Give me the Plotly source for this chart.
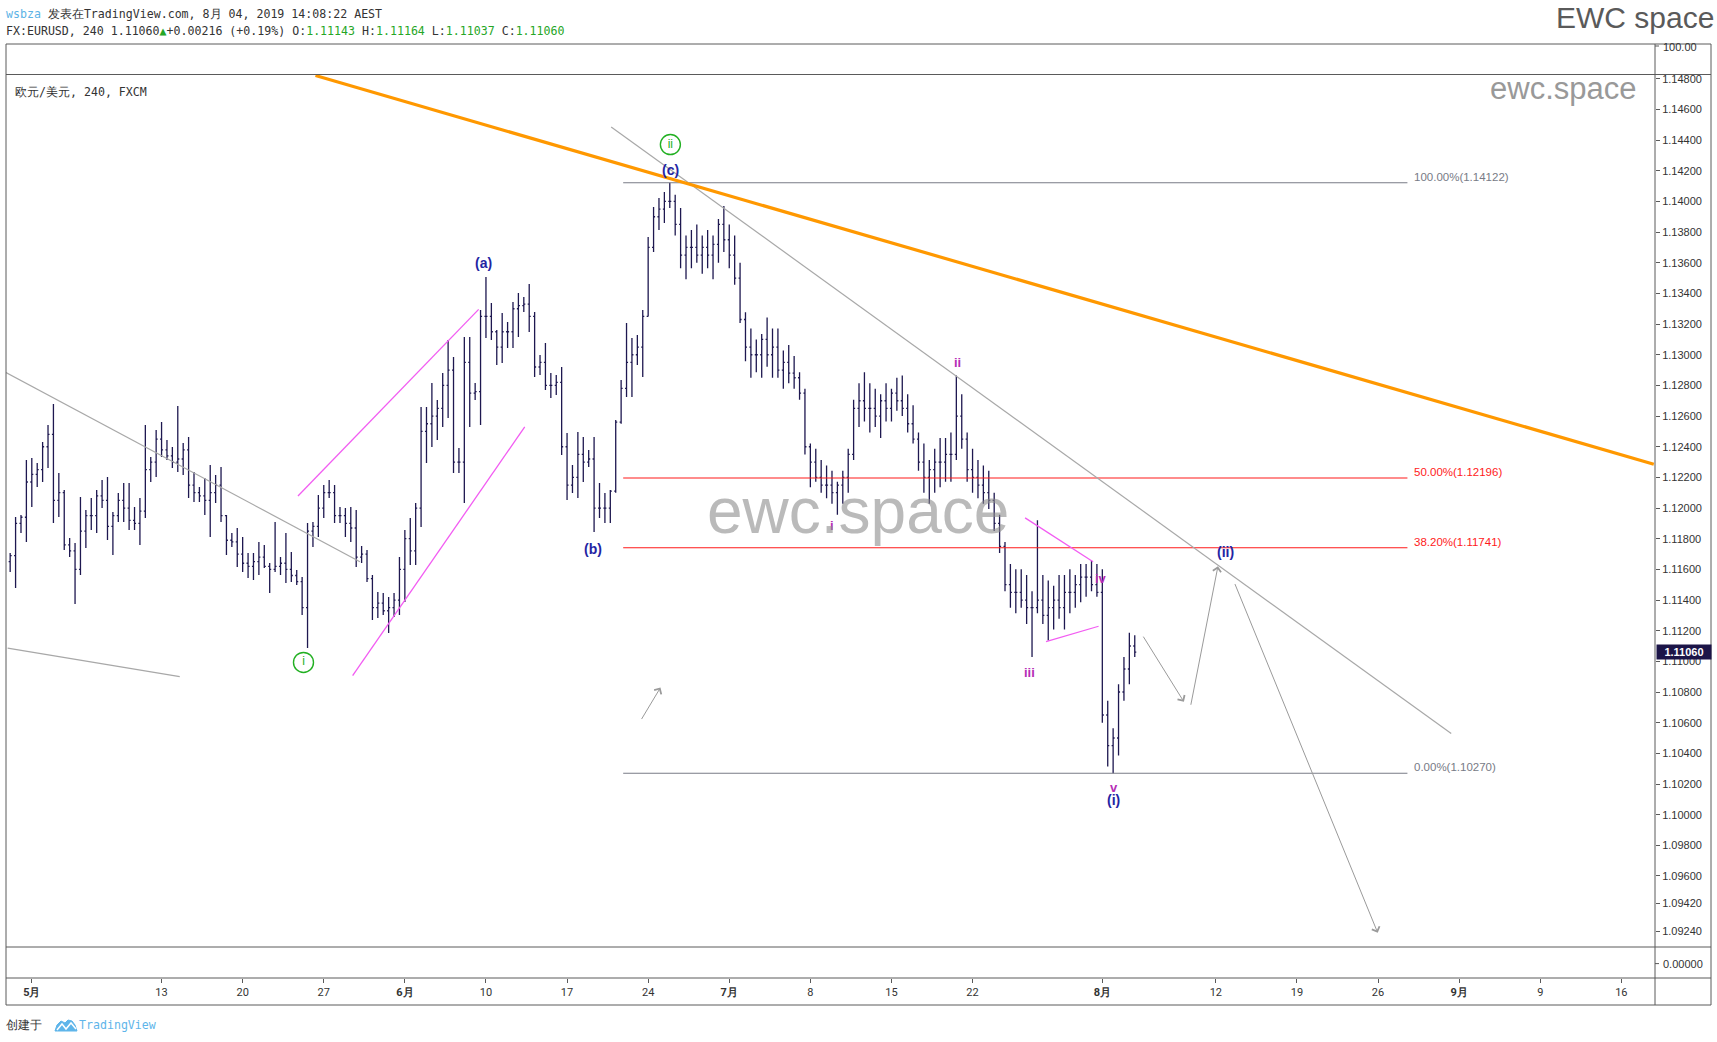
import plotly.graph_objects as go

# ---------------- data (EURUSD, 8h bars) ----------------
bar_open = [
 1.11650,1.11690,1.11900,1.11940,1.12170,1.12220,1.12250,1.12400,1.12480,1.12050,
 1.12100,1.11760,1.11720,1.11600,1.11850,1.11950,1.11950,1.12080,1.12050,1.11880,
 1.11950,1.12050,1.12000,1.11920,1.11900,1.11980,1.12250,1.12300,1.12450,1.12380,
 1.12340,1.12300,1.12320,1.12380,1.12150,1.12100,1.12080,1.12050,1.12100,1.12150,
 1.11950,1.11790,1.11780,1.11700,1.11640,1.11620,1.11650,1.11680,1.11620,1.11600,
 1.11620,1.11640,1.11600,1.11560,1.11520,1.11350,1.11850,1.11880,1.12000,1.12100,
 1.12100,1.11950,1.11950,1.11900,1.11870,1.11680,1.11700,1.11540,1.11350,1.11380,
 1.11330,1.11350,1.11400,1.11600,1.11800,1.11720,1.12000,1.12500,1.12550,1.12600,
 1.12650,1.12800,1.12900,1.12300,1.12300,1.12950,1.12750,1.12760,1.13250,1.13250,
 1.13150,1.13050,1.13150,1.13150,1.13300,1.13320,1.13330,1.13250,1.12920,1.12950,
 1.12800,1.12800,1.12820,1.12400,1.12150,1.12200,1.12350,1.12300,1.12320,1.12000,
 1.12000,1.12000,1.12110,1.12560,1.12780,1.12950,1.13000,1.13050,1.13250,1.13700,
 1.13900,1.13950,1.14000,1.14000,1.13850,1.13650,1.13700,1.13700,1.13650,1.13700,
 1.13650,1.13720,1.13850,1.13750,1.13650,1.13500,1.13230,1.13050,1.13000,1.13000,
 1.13100,1.13000,1.13050,1.12900,1.12950,1.12880,1.12850,1.12750,1.12400,1.12300,
 1.12200,1.12150,1.12150,1.12100,1.12150,1.12200,1.12350,1.12650,1.12700,1.12650,
 1.12650,1.12600,1.12700,1.12650,1.12750,1.12700,1.12650,1.12550,1.12450,1.12300,
 1.12200,1.12250,1.12300,1.12300,1.12350,1.12350,1.12600,1.12450,1.12250,1.12200,
 1.12150,1.12100,1.12050,1.11900,1.11750,1.11500,1.11450,1.11450,1.11400,1.11350,
 1.11350,1.11400,1.11300,1.11350,1.11400,1.11350,1.11450,1.11450,1.11500,1.11550,
 1.11550,1.11500,1.11450,1.10650,1.10450,1.10500,1.10800,1.10950,1.11100]
bar_high = [
 1.11707,1.11942,1.11955,1.12313,1.12326,1.12294,1.12431,1.12542,1.12679,1.12228,
 1.12118,1.11804,1.11772,1.12072,1.11987,1.12065,1.12118,1.12183,1.12203,1.11974,
 1.12098,1.12163,1.12163,1.12007,1.12065,1.12542,1.12333,1.12509,1.12561,1.12444,
 1.12398,1.12666,1.12424,1.12463,1.12235,1.12137,1.12196,1.12281,1.12215,1.12268,
 1.11955,1.11837,1.11870,1.11811,1.11707,1.11707,1.11778,1.11759,1.11642,1.11909,
 1.11681,1.11837,1.11713,1.11596,1.11550,1.11903,1.11909,1.12085,1.12150,1.12183,
 1.12150,1.12007,1.12000,1.12007,1.11987,1.11752,1.11726,1.11563,1.11452,1.11446,
 1.11420,1.11446,1.11681,1.11857,1.11935,1.12033,1.12659,1.12659,1.12816,1.12705,
 1.12881,1.13096,1.12985,1.12392,1.13116,1.13116,1.12816,1.13292,1.13507,1.13338,
 1.13161,1.13272,1.13214,1.13344,1.13403,1.13377,1.13462,1.13279,1.12998,1.13077,
 1.12881,1.12868,1.12920,1.12490,1.12281,1.12496,1.12463,1.12379,1.12463,1.12163,
 1.12098,1.12118,1.12574,1.12835,1.13207,1.13109,1.13129,1.13292,1.13768,1.13964,
 1.14022,1.14062,1.14122,1.14043,1.13957,1.13778,1.13814,1.13850,1.13778,1.13814,
 1.13778,1.13885,1.13971,1.13850,1.13778,1.13600,1.13278,1.13171,1.13100,1.13135,
 1.13243,1.13171,1.13171,1.13028,1.13064,1.12992,1.12885,1.12778,1.12421,1.12386,
 1.12314,1.12278,1.12243,1.12171,1.12243,1.12386,1.12707,1.12814,1.12885,1.12814,
 1.12778,1.12743,1.12814,1.12778,1.12850,1.12864,1.12743,1.12671,1.12493,1.12421,
 1.12314,1.12386,1.12457,1.12457,1.12493,1.12864,1.12743,1.12493,1.12386,1.12314,
 1.12278,1.12243,1.12100,1.11957,1.11778,1.11635,1.11600,1.11600,1.11564,1.11457,
 1.11921,1.11564,1.11528,1.11493,1.11564,1.11564,1.11600,1.11564,1.11635,1.11635,
 1.11657,1.11635,1.11600,1.10743,1.10564,1.10850,1.11028,1.11186,1.11171]
bar_low = [
 1.11583,1.11478,1.11837,1.11778,1.12007,1.12137,1.12170,1.12261,1.11903,1.11942,
 1.11726,1.11681,1.11374,1.11563,1.11739,1.11857,1.11837,1.12000,1.11791,1.11694,
 1.11909,1.11909,1.11857,1.11857,1.11759,1.11935,1.12170,1.12203,1.12333,1.12313,
 1.12261,1.12235,1.12215,1.12065,1.12039,1.12039,1.11955,1.11811,1.12033,1.11909,
 1.11694,1.11746,1.11616,1.11583,1.11544,1.11531,1.11563,1.11609,1.11446,1.11583,
 1.11563,1.11511,1.11518,1.11498,1.11302,1.11087,1.11746,1.11811,1.11935,1.12065,
 1.11903,1.11903,1.11811,1.11778,1.11616,1.11642,1.11518,1.11270,1.11283,1.11302,
 1.11185,1.11289,1.11302,1.11387,1.11629,1.11629,1.11876,1.12294,1.12398,1.12444,
 1.12529,1.12587,1.12228,1.12228,1.12033,1.12529,1.12705,1.12542,1.13109,1.13096,
 1.12933,1.12946,1.13044,1.13044,1.13116,1.13279,1.13148,1.12855,1.12868,1.12770,
 1.12718,1.12737,1.12346,1.12052,1.12098,1.12065,1.12170,1.12268,1.11844,1.11935,
 1.11903,1.11903,1.12100,1.12550,1.12724,1.12724,1.12933,1.12855,1.13250,1.13670,
 1.13814,1.13859,1.13957,1.13778,1.13564,1.13493,1.13564,1.13600,1.13529,1.13564,
 1.13493,1.13600,1.13671,1.13564,1.13457,1.13207,1.12957,1.12850,1.12885,1.12850,
 1.12921,1.12850,1.12850,1.12778,1.12814,1.12778,1.12707,1.12350,1.12136,1.12171,
 1.12100,1.12064,1.12028,1.11957,1.12028,1.12100,1.12314,1.12528,1.12564,1.12493,
 1.12528,1.12457,1.12564,1.12564,1.12635,1.12600,1.12493,1.12421,1.12243,1.12100,
 1.12028,1.12100,1.12136,1.12171,1.12171,1.12314,1.12386,1.12171,1.12100,1.12064,
 1.12028,1.11993,1.11850,1.11707,1.11457,1.11350,1.11314,1.11350,1.11243,1.11028,
 1.11314,1.11243,1.11136,1.11207,1.11278,1.11207,1.11314,1.11350,1.11386,1.11421,
 1.11457,1.11421,1.10600,1.10314,1.10270,1.10386,1.10743,1.10850,1.11028]
bar_close = [
 1.11690,1.11900,1.11940,1.12170,1.12220,1.12250,1.12400,1.12480,1.12050,1.12100,
 1.11760,1.11720,1.11600,1.11850,1.11950,1.11950,1.12080,1.12050,1.11880,1.11950,
 1.12050,1.12000,1.11920,1.11900,1.11980,1.12250,1.12300,1.12450,1.12380,1.12340,
 1.12300,1.12320,1.12380,1.12150,1.12100,1.12080,1.12050,1.12100,1.12150,1.11950,
 1.11790,1.11780,1.11700,1.11640,1.11620,1.11650,1.11680,1.11620,1.11600,1.11620,
 1.11640,1.11600,1.11560,1.11520,1.11350,1.11850,1.11880,1.12000,1.12100,1.12100,
 1.11950,1.11950,1.11900,1.11870,1.11680,1.11700,1.11540,1.11350,1.11380,1.11330,
 1.11350,1.11400,1.11600,1.11800,1.11720,1.12000,1.12500,1.12550,1.12600,1.12650,
 1.12800,1.12900,1.12300,1.12300,1.12950,1.12750,1.12760,1.13250,1.13250,1.13150,
 1.13050,1.13150,1.13150,1.13300,1.13320,1.13330,1.13250,1.12920,1.12950,1.12800,
 1.12800,1.12820,1.12400,1.12150,1.12200,1.12350,1.12300,1.12320,1.12000,1.12000,
 1.12000,1.12110,1.12560,1.12780,1.12950,1.13000,1.13050,1.13250,1.13700,1.13900,
 1.13950,1.14000,1.14000,1.13850,1.13650,1.13700,1.13700,1.13650,1.13700,1.13650,
 1.13720,1.13850,1.13750,1.13650,1.13500,1.13230,1.13050,1.13000,1.13000,1.13100,
 1.13000,1.13050,1.12900,1.12950,1.12880,1.12850,1.12750,1.12400,1.12300,1.12200,
 1.12150,1.12150,1.12100,1.12150,1.12200,1.12350,1.12650,1.12700,1.12650,1.12650,
 1.12600,1.12700,1.12650,1.12750,1.12700,1.12650,1.12550,1.12450,1.12300,1.12200,
 1.12250,1.12300,1.12300,1.12350,1.12350,1.12600,1.12450,1.12250,1.12200,1.12150,
 1.12100,1.12050,1.11900,1.11750,1.11500,1.11450,1.11450,1.11400,1.11350,1.11350,
 1.11400,1.11300,1.11350,1.11400,1.11350,1.11450,1.11450,1.11500,1.11550,1.11550,
 1.11500,1.11450,1.10650,1.10450,1.10500,1.10800,1.10950,1.11100,1.11060]

# trading-day index: 0 = 1 May 2019 (weekends removed), three 8h bars per day
tick_days = [0, 8, 13, 18, 23, 28, 33, 38, 43, 48, 53, 58, 66, 73, 78, 83, 88, 93, 98]
tick_labels = ["5月", "13", "20", "27", "6月", "10", "17", "24", "7月", "8", "15", "22",
               "8月", "12", "19", "26", "9月", "9", "16"]
price_ticks = [1.148, 1.146, 1.144, 1.142, 1.140, 1.138, 1.136, 1.134, 1.132, 1.130,
               1.128, 1.126, 1.124, 1.122, 1.120, 1.118, 1.116, 1.114, 1.112, 1.110,
               1.108, 1.106, 1.104, 1.102, 1.100, 1.098, 1.096, 1.0942, 1.0924]
price_tick_text = ["1.14800", "1.14600", "1.14400", "1.14200", "1.14000", "1.13800", "1.13600",
                   "1.13400", "1.13200", "1.13000", "1.12800", "1.12600", "1.12400", "1.12200",
                   "1.12000", "1.11800", "1.11600", "1.11400", "1.11200", "1.11000", "1.10800",
                   "1.10600", "1.10400", "1.10200", "1.10000", "1.09800", "1.09600", "1.09420",
                   "1.09240"]
last_price = 1.11060

fib_levels = [1.14122, 1.12196, 1.11741, 1.10270]
fib_names = ["100.00%", "50.00%", "38.20%", "0.00%"]
fib_colors = ["#787b86", "#ff1a1a", "#ff1a1a", "#787b86"]
fib_start, fib_end = 36.46, 84.81

# drawn lines: (x0, y0, x1, y1)
orange_trend = (17.49, 1.14821, 100.0, 1.12286)
grey_lines = [(-1.59, 1.12884, 20.23, 1.11650),
              (-1.49, 1.11086, 9.12, 1.10900),
              (35.72, 1.14486, 87.51, 1.10529)]
magenta_lines = [(16.41, 1.12079, 27.55, 1.13296),
                 (19.78, 1.10907, 30.39, 1.12529),
                 (61.24, 1.11936, 65.43, 1.11650),
                 (62.53, 1.11129, 65.77, 1.11229)]
# projection arrows: (tail x, tail y, head x, head y)
arrows = [(37.54, 1.10614, 38.76, 1.10829),
          (68.47, 1.11171, 71.03, 1.10736),
          (71.44, 1.10707, 73.13, 1.11621),
          (74.14, 1.11514, 82.98, 1.09229)]

BLUE = "#2424a3"
MAG = "#b62db6"
GREEN = "#22b022"
wave_labels = [("(a)", 27.82, 1.13600, BLUE), ("(b)", 34.57, 1.11736, BLUE),
               ("(c)", 39.37, 1.14207, BLUE), ("(i)", 66.71, 1.10093, BLUE),
               ("(ii)", 73.60, 1.11714, BLUE),
               ("i", 49.36, 1.11886, MAG), ("ii", 57.06, 1.12950, MAG),
               ("iii", 61.51, 1.10929, MAG), ("iv", 65.90, 1.11543, MAG),
               ("v", 66.71, 1.10179, MAG)]
circled_labels = [("i", 16.75, 1.10993), ("ii", 39.37, 1.14371)]

# ---------------- layout geometry (pixels) ----------------
W, H = 1717, 1042
ML, MR, MT, MB = 6, 62, 44, 37
PW, PH = W - ML - MR, H - MT - MB


def pxx(x):
    return (x - ML) / PW


def pyy(y):
    return (H - MB - y) / PH


bar_x = [-1.5 + (i + 0.5) / 3 for i in range(len(bar_close))]
o = bar_open
h = [max(a, b, c) for a, b, c in zip(bar_high, bar_open, bar_close)]
l = [min(a, b, c) for a, b, c in zip(bar_low, bar_open, bar_close)]

BAR = "#1e1850"
fig = go.Figure()
fig.add_trace(go.Ohlc(x=bar_x, open=o, high=h, low=l, close=bar_close,
                      increasing=dict(line=dict(color=BAR, width=1.3)),
                      decreasing=dict(line=dict(color=BAR, width=1.3)),
                      tickwidth=0.28, hoverinfo="skip", showlegend=False))

for t, x, y in circled_labels:
    fig.add_trace(go.Scatter(x=[x], y=[y], mode="markers+text", text=[t],
                             textposition="middle center",
                             textfont=dict(family="Liberation Sans, Arial", size=12, color=GREEN),
                             marker=dict(symbol="circle-open", size=20, color=GREEN,
                                         line=dict(width=1.4, color=GREEN)),
                             hoverinfo="skip", showlegend=False, cliponaxis=False))

shapes = []
# fib lines
for lv, col in zip(fib_levels, fib_colors):
    shapes.append(dict(type="line", xref="x", yref="y", x0=fib_start, x1=fib_end, y0=lv, y1=lv,
                       line=dict(color=col, width=1.2)))
for (x0, y0, x1, y1) in grey_lines:
    shapes.append(dict(type="line", xref="x", yref="y", x0=x0, y0=y0, x1=x1, y1=y1,
                       line=dict(color="#a8a8a8", width=1.2)))
for (x0, y0, x1, y1) in magenta_lines:
    shapes.append(dict(type="line", xref="x", yref="y", x0=x0, y0=y0, x1=x1, y1=y1,
                       line=dict(color="#f25cf2", width=1.3)))
x0, y0, x1, y1 = orange_trend
shapes.append(dict(type="line", xref="x", yref="y", x0=x0, y0=y0, x1=x1, y1=y1,
                   line=dict(color="#ff9800", width=3.2)))

FRAME = "#5a5a5a"
right_edge = pxx(1711)
# outer frame and pane separators
shapes.append(dict(type="rect", xref="paper", yref="paper", x0=pxx(6), x1=right_edge,
                   y0=pyy(1005), y1=pyy(44), line=dict(color=FRAME, width=1)))
for yy in (74.5, 947, 978):
    shapes.append(dict(type="line", xref="paper", yref="paper", x0=pxx(6), x1=right_edge,
                       y0=pyy(yy), y1=pyy(yy), line=dict(color=FRAME, width=1)))
shapes.append(dict(type="line", xref="paper", yref="paper", x0=pxx(1655), x1=pxx(1655),
                   y0=pyy(1005), y1=pyy(44), line=dict(color=FRAME, width=1)))
for yy in (46, 963.6):
    shapes.append(dict(type="line", xref="paper", yref="paper", x0=pxx(1655), x1=pxx(1659),
                       y0=pyy(yy), y1=pyy(yy), line=dict(color=FRAME, width=1)))


# TradingView logo (small cloud) in footer
def path(points):
    s = "M " + " L ".join(f"{pxx(a):.5f},{pyy(b):.5f}" for a, b in points) + " Z"
    return s


shapes.append(dict(type="path", xref="paper", yref="paper",
                   path=path([(55, 1031), (57, 1025), (61, 1021), (65, 1023), (68, 1020),
                              (72, 1021), (75, 1025), (77, 1031)]),
                   fillcolor="#5eb5ea", line=dict(color="#5eb5ea", width=1)))
shapes.append(dict(type="path", xref="paper", yref="paper",
                   path="M " + " L ".join(f"{pxx(a):.5f},{pyy(b):.5f}" for a, b in
                                          [(57, 1030), (62, 1024), (66, 1029), (71, 1023), (76, 1029)]),
                   line=dict(color="white", width=1.5)))

ann = []
FONT = "Liberation Sans, Arial, sans-serif"
MONO = "DejaVu Sans Mono, Liberation Mono, monospace"
for lv, name, col in zip(fib_levels, fib_names, fib_colors):
    ann.append(dict(x=fib_end + 0.3, y=lv, xref="x", yref="y", text=f"{name}({lv:.5f})",
                    showarrow=False, xanchor="left", yanchor="middle", yshift=6,
                    font=dict(family=FONT, size=11.5, color=col)))
for t, x, y, col in wave_labels:
    ann.append(dict(x=x, y=y, xref="x", yref="y", text=f"<b>{t}</b>", showarrow=False,
                    xanchor="center", yanchor="middle",
                    font=dict(family=FONT, size=14 if col == BLUE else 13, color=col)))
for (ax, ay, x, y) in arrows:
    ann.append(dict(x=x, y=y, ax=ax, ay=ay, xref="x", yref="y", axref="x", ayref="y",
                    text="", showarrow=True, arrowhead=4, arrowsize=1.6, arrowwidth=1,
                    arrowcolor="#9a9a9a", standoff=0, startstandoff=0))

# watermarks / header texts
ann.append(dict(x=pxx(858), y=pyy(511), xref="paper", yref="paper", text="ewc.space",
                showarrow=False, xanchor="center", yanchor="middle",
                font=dict(family=FONT, size=64, color="rgba(140,140,140,0.6)")))
ann.append(dict(x=pxx(1638), y=pyy(88), xref="paper", yref="paper", text="ewc.space",
                showarrow=False, xanchor="right", yanchor="middle",
                font=dict(family=FONT, size=31, color="#999999")))
ann.append(dict(x=pxx(1715), y=pyy(0), xref="paper", yref="paper", text="EWC space",
                showarrow=False, xanchor="right", yanchor="top", borderpad=0,
                font=dict(family=FONT, size=30, color="#5a5a5a")))
G = "#26a626"
ann.append(dict(x=pxx(4), y=pyy(14), xref="paper", yref="paper",
                text="<span style='color:#5cb3e6'>wsbza</span> 发表在TradingView.com, 8月 04, 2019 14:08:22 AEST",
                showarrow=False, xanchor="left", yanchor="middle",
                font=dict(family=MONO, size=11.6, color="#333333")))
ann.append(dict(x=pxx(4), y=pyy(31), xref="paper", yref="paper",
                text=(f"FX:EURUSD, 240 1.11060<span style='color:{G}'>▲</span>+0.00216 (+0.19%) "
                      f"O:<span style='color:{G}'>1.11143</span> H:<span style='color:{G}'>1.11164</span> "
                      f"L:<span style='color:{G}'>1.11037</span> C:<span style='color:{G}'>1.11060</span>"),
                showarrow=False, xanchor="left", yanchor="middle",
                font=dict(family=MONO, size=11.6, color="#333333")))
ann.append(dict(x=pxx(13), y=pyy(92), xref="paper", yref="paper", text="欧元/美元, 240, FXCM",
                showarrow=False, xanchor="left", yanchor="middle",
                font=dict(family=MONO, size=11.6, color="#333333")))
ann.append(dict(x=pxx(4), y=pyy(1025), xref="paper", yref="paper", text="创建于",
                showarrow=False, xanchor="left", yanchor="middle",
                font=dict(family=MONO, size=12, color="#333333")))
ann.append(dict(x=pxx(77), y=pyy(1025), xref="paper", yref="paper", text="TradingView",
                showarrow=False, xanchor="left", yanchor="middle",
                font=dict(family=MONO, size=11.6, color="#5eb5ea")))
ann.append(dict(x=pxx(1661), y=pyy(47), xref="paper", yref="paper", text="100.00",
                showarrow=False, xanchor="left", yanchor="middle",
                font=dict(family=FONT, size=11, color="#333333")))
ann.append(dict(x=pxx(1661), y=pyy(963.6), xref="paper", yref="paper", text="0.00000",
                showarrow=False, xanchor="left", yanchor="middle",
                font=dict(family=FONT, size=11, color="#333333")))
ann.append(dict(x=pxx(1683.5), y=last_price, xref="paper", yref="y",
                text=f"<b>{last_price:.5f}</b>", showarrow=False, xanchor="center",
                yanchor="middle", bgcolor="#1c1548", width=54, height=14, borderpad=0,
                font=dict(family=FONT, size=11, color="white")))

x_lo = (6 - 31.8) / 16.22
x_hi = (1655 - 31.8) / 16.22
y_lo = 1.15314 - 0.00006523 * 947
y_hi = 1.15314 - 0.00006523 * 74.5

fig.update_layout(
    width=W, height=H, margin=dict(l=ML, r=MR, t=MT, b=MB),
    paper_bgcolor="white", plot_bgcolor="white", showlegend=False,
    shapes=shapes, annotations=ann,
    xaxis=dict(range=[x_lo, x_hi], rangeslider=dict(visible=False), showgrid=False,
               zeroline=False, showline=False, anchor="free", position=pyy(978),
               tickmode="array", tickvals=tick_days,
               ticktext=[f"<b>{t}</b>" if "月" in t else t for t in tick_labels],
               ticks="outside", ticklen=4, tickcolor=FRAME,
               tickfont=dict(family="Liberation Sans Narrow, Roboto, Arial", size=11, color="#333333")),
    yaxis=dict(range=[y_lo, y_hi], domain=[pyy(947), pyy(74.5)], side="right",
               showgrid=False, zeroline=False, showline=False,
               tickmode="array", tickvals=price_ticks, ticktext=price_tick_text,
               ticks="outside", ticklen=4, tickcolor=FRAME,
               tickfont=dict(family=FONT, size=11, color="#333333")),
)

fig.write_html("out.html", config={"displayModeBar": False},
               post_script="document.body.style.margin='0px';document.body.style.overflow='hidden';")
